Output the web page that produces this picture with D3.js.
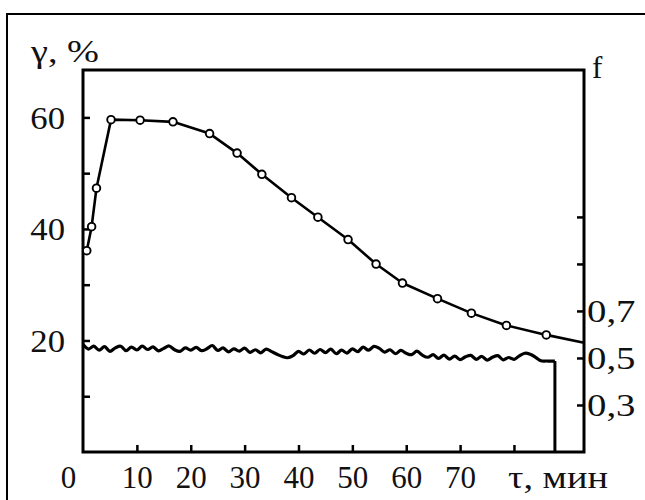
<!DOCTYPE html>
<html>
<head>
<meta charset="utf-8">
<script src="https://cdn.jsdelivr.net/npm/d3@7"></script>
<style>
  html, body { margin: 0; padding: 0; background: #fff; }
  svg { display: block; }
  text { font-family: "Liberation Serif", "DejaVu Serif", serif; fill: #111; }
</style>
</head>
<body>
<div id="chart"></div>
<script>
// ---- data ----
// γ (%) curve: time (min) of each marker and its value
const tauMarkers = [0.7, 1.6, 2.5, 5.2, 10.6, 16.7, 23.5, 28.6, 33.2, 38.7, 43.6, 49.2, 54.4, 59.3, 65.8, 72.1, 78.6, 86.0];
const gammaMarkers = [36.1, 40.4, 47.3, 59.6, 59.5, 59.2, 57.1, 53.6, 49.8, 45.6, 42.1, 38.1, 33.7, 30.3, 27.5, 24.9, 22.7, 21.0];
// line continues to the right axis
const gammaEndTau = 93;
const gammaEndValue = 19.6;

// friction coefficient f (right axis), recorded trace
const fTau = [0,1,2,3,4,5,6,7,8,9,10,11,12,13,14,15,16,17,18,19,20,21,22,23,24,25,26,27,28,29,
  30,31,32,33,34,35,36,37,38,39,40,41,42,43,44,45,46,47,48,49,50,51,52,53,54,55,56,57,58,59,
  60,61,62,63,64,65,66,67,68,69,70,71,72,73,74,75,76,77,78,79,80,81,82,83,84,85,86,87,87.6];
const fValues = [0.558,0.538,0.550,0.533,0.548,0.528,0.543,0.550,0.531,0.546,0.534,0.550,0.536,0.547,0.530,0.541,0.551,0.535,0.528,0.543,
  0.533,0.545,0.531,0.539,0.553,0.532,0.543,0.526,0.539,0.529,
  0.542,0.524,0.535,0.522,0.538,0.527,0.516,0.506,0.501,0.510,
  0.528,0.517,0.534,0.520,0.536,0.523,0.538,0.518,0.533,0.521,
  0.539,0.527,0.546,0.533,0.549,0.541,0.525,0.535,0.518,0.532,
  0.520,0.514,0.529,0.512,0.503,0.514,0.498,0.512,0.495,0.508,
  0.493,0.505,0.511,0.494,0.507,0.491,0.503,0.510,0.492,0.502,
  0.494,0.509,0.520,0.516,0.503,0.488,0.487,0.487,0.487];
// trace ends with a vertical drop to the axis
const fDropTau = 87.6;
const fDropValue = 0.1;

// tick values / labels
const xTicks = [0, 10, 20, 30, 40, 50, 60, 70, 80];
const xTickLabels = ["0", "10", "20", "30", "40", "50", "60", "70", ""];
const yTicks = [10, 20, 30, 40, 50, 60];
const yTickLabels = ["", "20", "", "40", "", "60"];
const fTicks = [0.3, 0.5, 0.7, 0.9, 1.1];
const fTickLabels = ["0,3", "0,5", "0,7", "", ""];

const W = 645, H = 500;
const svg = d3.select("#chart").append("svg").attr("width", W).attr("height", H);

// outer frame
svg.append("rect").attr("x", 7).attr("y", 14).attr("width", 700).attr("height", 560)
  .attr("fill", "none").attr("stroke", "#000").attr("stroke-width", 2);

const mLeft = 83, mRight = 584, mTop = 70, mBottom = 452;
const x = d3.scaleLinear().domain([0, 93]).range([mLeft, mRight]);
const y = d3.scaleLinear().domain([0, 68.5]).range([mBottom, mTop]);
const yf = d3.scaleLinear().domain([0.1, 1.725]).range([mBottom, mTop]);

const FS = 31;

// widen glyphs slightly (the reference font is wider than Liberation Serif)
function stretch(sel, k) {
  sel.each(function () {
    const len = this.getComputedTextLength();
    if (len > 0) d3.select(this).attr("textLength", len * k).attr("lengthAdjust", "spacingAndGlyphs");
  });
}

// bottom axis
const gx = svg.append("g").attr("transform", `translate(0,${mBottom})`)
  .call(d3.axisBottom(x).tickValues(xTicks).tickSizeInner(-7).tickSizeOuter(0)
    .tickFormat((d, i) => xTickLabels[i]));
gx.select(".domain").remove();
gx.selectAll(".tick line").attr("stroke", "#000").attr("stroke-width", 2.5)
  .filter(d => d === 0).remove();
gx.attr("font-family", null).attr("font-size", FS);
gx.selectAll(".tick text").attr("font-family", null).attr("font-size", FS)
  .attr("y", 36).attr("dy", null).attr("fill", "#111")
  .attr("dx", d => d === 0 ? -15 : 0);

// left axis
const gy = svg.append("g").attr("transform", `translate(${mLeft},0)`)
  .call(d3.axisLeft(y).tickValues(yTicks).tickSizeInner(-7).tickSizeOuter(0).tickPadding(18)
    .tickFormat((d, i) => yTickLabels[i]));
gy.select(".domain").remove();
gy.selectAll(".tick line").attr("stroke", "#000").attr("stroke-width", 2.5);
gy.attr("font-family", null).attr("font-size", FS);
gy.selectAll(".tick text").attr("font-family", null).attr("font-size", FS).attr("dy", "0.35em").attr("fill", "#111");
stretch(gy.selectAll(".tick text"), 1.12);

// right axis
const gf = svg.append("g").attr("transform", `translate(${mRight},0)`)
  .call(d3.axisRight(yf).tickValues(fTicks).tickSizeInner(-7).tickSizeOuter(0).tickPadding(3)
    .tickFormat((d, i) => fTickLabels[i]));
gf.select(".domain").remove();
gf.selectAll(".tick line").attr("stroke", "#000").attr("stroke-width", 2.5);
gf.attr("font-family", null).attr("font-size", FS);
gf.selectAll(".tick text").attr("font-family", null).attr("font-size", FS).attr("dy", "0.35em").attr("fill", "#111");
stretch(gf.selectAll(".tick text"), 1.25);

// plot box
svg.append("rect").attr("x", mLeft).attr("y", mTop)
  .attr("width", mRight - mLeft).attr("height", mBottom - mTop)
  .attr("fill", "none").attr("stroke", "#000").attr("stroke-width", 3);

// axis titles
svg.append("text").attr("x", 31).attr("y", 62).attr("font-size", FS)
  .attr("textLength", 68).attr("lengthAdjust", "spacingAndGlyphs").text("γ, %");
svg.append("text").attr("x", 592).attr("y", 78).attr("font-size", FS).text("f");
svg.append("text").attr("x", 508).attr("y", 488).attr("font-size", FS)
  .attr("textLength", 100).attr("lengthAdjust", "spacingAndGlyphs").text("τ, мин");

// f trace
const fPts = fTau.map((t, i) => [t, fValues[i]]);
svg.append("path")
  .attr("d", d3.line().x(d => x(d[0])).y(d => yf(d[1])).curve(d3.curveCatmullRom.alpha(0.5))(fPts))
  .attr("fill", "none").attr("stroke", "#000").attr("stroke-width", 3.2).attr("stroke-linejoin", "round");
svg.append("path")
  .attr("d", d3.line().x(d => x(d[0])).y(d => yf(d[1]))([[fTau[fTau.length - 1], fValues[fValues.length - 1]], [fDropTau, fDropValue]]))
  .attr("fill", "none").attr("stroke", "#000").attr("stroke-width", 3);

// gamma curve
const gPts = tauMarkers.map((t, i) => [t, gammaMarkers[i]]).concat([[gammaEndTau, gammaEndValue]]);
svg.append("path")
  .attr("d", d3.line().x(d => x(d[0])).y(d => y(d[1]))(gPts))
  .attr("fill", "none").attr("stroke", "#000").attr("stroke-width", 2.6).attr("stroke-linejoin", "round");
svg.append("g").selectAll("circle").data(tauMarkers).join("circle")
  .attr("cx", d => x(d)).attr("cy", (d, i) => y(gammaMarkers[i])).attr("r", 3.8)
  .attr("fill", "#fff").attr("stroke", "#000").attr("stroke-width", 1.9);
</script>
</body>
</html>
